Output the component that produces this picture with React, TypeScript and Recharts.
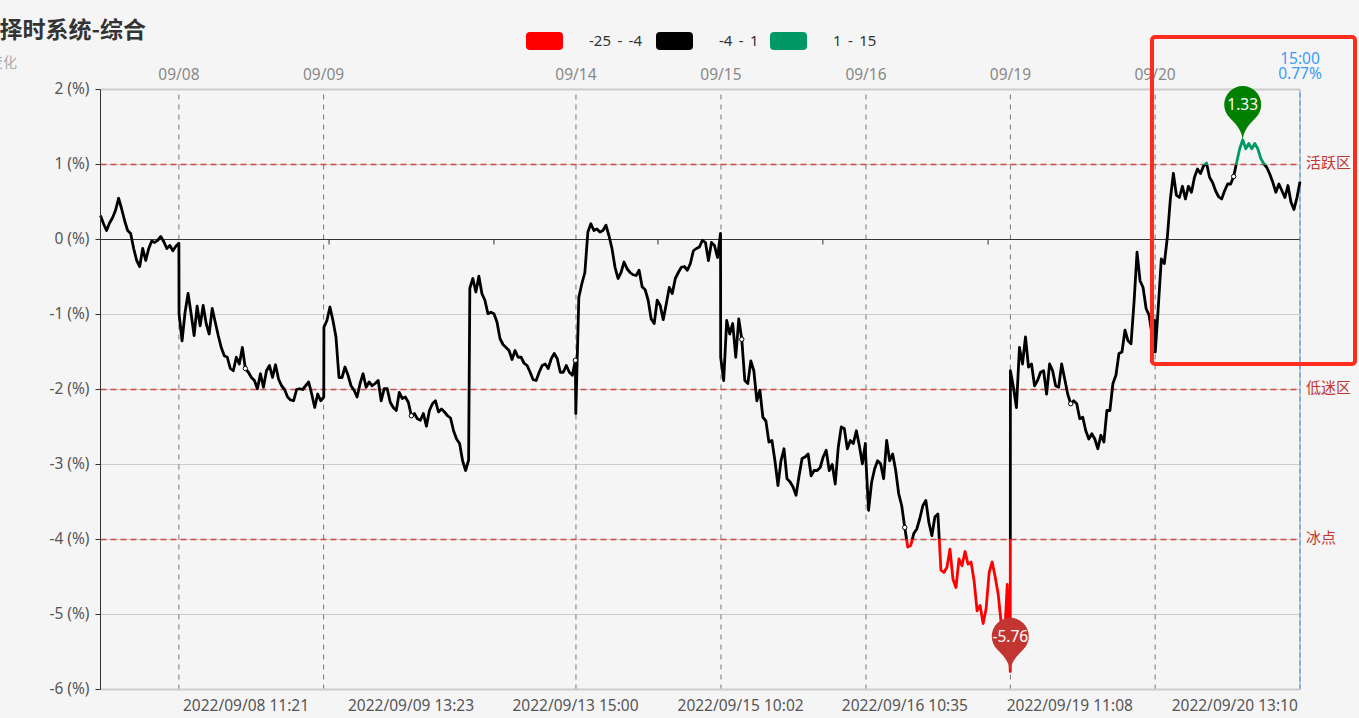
import { CartesianGrid, ComposedChart, Line, ReferenceDot, ReferenceLine, XAxis, YAxis } from "recharts";

// one reading every 5 trading minutes, grouped per session
const sep07 = [0.32, 0.21, 0.12, 0.22, 0.29, 0.39, 0.55, 0.41, 0.25, 0.12, 0.08, -0.12, -0.28, -0.36, -0.12, -0.28, -0.12, -0.02, -0.04, -0.01, 0.04, -0.03, -0.12, -0.08, -0.15, -0.09, -0.05];
const sep08 = [-0.99, -1.35, -0.97, -0.72, -0.99, -1.28, -0.89, -1.15, -0.88, -1.12, -1.26, -0.92, -1.1, -1.28, -1.44, -1.55, -1.57, -1.72, -1.75, -1.57, -1.66, -1.44, -1.72, -1.77, -1.84, -1.88, -1.99, -1.79, -1.97, -1.75, -1.68, -1.84, -1.67, -1.86, -1.95, -2.0, -2.1, -2.14, -2.15, -2.0, -1.99, -2.0, -1.95, -1.9, -2.06, -2.24, -2.06, -2.15, -2.1];
const sep09 = [-1.17, -1.08, -0.9, -1.08, -1.3, -1.84, -1.84, -1.7, -1.81, -1.95, -2.01, -2.1, -1.92, -1.79, -1.97, -1.9, -1.95, -1.92, -1.88, -2.15, -1.99, -1.99, -2.17, -2.24, -2.28, -2.04, -2.12, -2.1, -2.17, -2.35, -2.32, -2.39, -2.41, -2.32, -2.49, -2.28, -2.19, -2.15, -2.3, -2.26, -2.3, -2.35, -2.38, -2.55, -2.66, -2.72, -2.95, -3.08, -2.94];
const sep13 = [-0.65, -0.52, -0.7, -0.49, -0.72, -0.81, -0.99, -0.97, -0.99, -1.1, -1.32, -1.4, -1.44, -1.48, -1.6, -1.48, -1.57, -1.57, -1.65, -1.68, -1.77, -1.87, -1.88, -1.77, -1.68, -1.66, -1.72, -1.59, -1.52, -1.59, -1.77, -1.77, -1.68, -1.77, -1.81, -1.61];
const sep14 = [-2.32, -0.77, -0.59, -0.44, 0.1, 0.21, 0.12, 0.14, 0.1, 0.12, 0.19, 0.05, -0.12, -0.37, -0.52, -0.44, -0.3, -0.39, -0.44, -0.47, -0.48, -0.41, -0.63, -0.67, -0.81, -1.06, -1.12, -0.81, -0.88, -1.07, -0.86, -0.64, -0.72, -0.52, -0.44, -0.37, -0.36, -0.41, -0.32, -0.15, -0.12, -0.1, -0.01, -0.04, -0.28, -0.04, -0.08, -0.24, 0.08];
const sep15 = [-1.57, -1.88, -1.08, -1.26, -1.12, -1.57, -1.06, -1.33, -1.88, -1.92, -1.62, -1.75, -2.15, -2.01, -2.37, -2.42, -2.7, -2.68, -2.95, -3.28, -2.95, -2.79, -3.19, -3.23, -3.3, -3.41, -3.15, -2.92, -2.9, -2.86, -3.15, -3.08, -3.08, -3.04, -2.9, -2.81, -3.08, -3.0, -3.26, -2.77, -2.5, -2.52, -2.79, -2.68, -2.72, -2.55, -2.75, -2.99, -2.72];
const sep16 = [-2.85, -3.61, -3.24, -3.06, -2.95, -2.99, -3.19, -2.68, -2.95, -2.86, -3.08, -3.39, -3.55, -3.84, -4.1, -4.08, -3.92, -3.86, -3.72, -3.55, -3.48, -3.77, -3.95, -3.7, -3.66, -4.41, -4.44, -4.37, -4.13, -4.53, -4.64, -4.26, -4.35, -4.16, -4.33, -4.3, -4.55, -4.95, -4.88, -5.12, -4.92, -4.44, -4.3, -4.5, -4.73, -5.12, -5.4, -4.6, -5.76];
const sep19 = [-1.75, -1.97, -2.24, -1.44, -1.66, -1.3, -1.7, -1.66, -1.95, -1.88, -1.77, -1.75, -2.06, -1.66, -1.75, -1.95, -1.97, -1.66, -1.86, -2.06, -2.19, -2.15, -2.19, -2.39, -2.37, -2.55, -2.66, -2.59, -2.66, -2.79, -2.61, -2.7, -2.28, -2.28, -1.92, -1.81, -1.52, -1.5, -1.21, -1.35, -1.39, -0.84, -0.17, -0.55, -0.64, -0.92, -1.01, -1.28, -1.08];
const sep20 = [-1.5, -0.9, -0.26, -0.32, 0.03, 0.54, 0.88, 0.59, 0.56, 0.71, 0.54, 0.71, 0.63, 0.83, 0.94, 0.88, 0.98, 1.02, 0.83, 0.76, 0.65, 0.57, 0.54, 0.65, 0.74, 0.74, 0.84, 1.03, 1.21, 1.33, 1.21, 1.28, 1.21, 1.28, 1.21, 1.08, 1.01, 0.96, 0.87, 0.76, 0.63, 0.74, 0.65, 0.56, 0.72, 0.5, 0.4, 0.56, 0.77];

const sessions = [sep07, sep08, sep09, sep13, sep14, sep15, sep16, sep19, sep20];
const sessionStarts = [0, 26.05, 74.1, 122.5, 157.65, 205.7, 253.75, 301.8, 349.85];
const lastIndex = 397.85;

const dayTicks = [26, 74, 157.7, 205.8, 253.9, 301.8, 349.8];
const dayLabels = ["09/08", "09/09", "09/14", "09/15", "09/16", "09/19", "09/20"];
const timeTicks = [48.26, 103, 157.55, 212.3, 266.8, 321.5, 376.2];
const timeLabels = ["2022/09/08 11:21", "2022/09/09 13:23", "2022/09/13 15:00", "2022/09/15 10:02", "2022/09/16 10:35", "2022/09/19 11:08", "2022/09/20 13:10"];
const zeroTicks = [21.2, 75.8, 130.5, 184.9, 239.6, 294.4, 348.7];
const yTicks = [-6, -5, -4, -3, -2, -1, 0, 1, 2];
const zones = [
  { y: 1, name: "活跃区" },
  { y: -2, name: "低迷区" },
  { y: -4, name: "冰点" },
];
const legendLabels = ["-25 - -4", "-4 - 1", "1 - 15"];
const legendColors = ["#ff0000", "#000000", "#009966"];

const rows = sessions.flatMap((s, n) => s.map((v, k) => ({ i: sessionStarts[n] + k, v })));
const values = rows.map((r) => r.v);
const maxV = Math.max(...values);
const minV = Math.min(...values);
const maxRow = rows.find((r) => r.v === maxV)!;
const minRow = rows.find((r) => r.v === minV)!;
const lastRow = rows[rows.length - 1];
const offsetOf = (y: number) => (maxV - y) / (maxV - minV);

// the little open circles sit on the sample nearest each time tick
const tickRows = timeTicks.map((t) => rows.reduce((a, b) => (Math.abs(b.i - t) < Math.abs(a.i - t) ? b : a)));

const FONT = '"Noto Sans", "Noto Sans CJK SC", sans-serif';
const CJK = '"Noto Sans CJK SC", sans-serif';

function Pin({ cx, cy, color, text }: any) {
  return (
    <g transform={`translate(${cx},${cy})`}>
      <path d="M0,0 C-1,-8 -4,-13 -13,-22 A18.5,18.5 0 1 1 13,-22 C4,-13 1,-8 0,0 Z" fill={color} />
      <text x={0} y={-35} dy="0.36em" textAnchor="middle" fill="#fff" fontSize={15.5} fontFamily={FONT}>
        {text}
      </text>
    </g>
  );
}

function LastLabel({ viewBox }: any) {
  return (
    <text textAnchor="middle" fill="#3a9bf4" fontSize={15.5} fontFamily={FONT}>
      <tspan x={viewBox.x} y={64}>15:00</tspan>
      <tspan x={viewBox.x} y={79}>{lastRow.v.toFixed(2)}%</tspan>
    </text>
  );
}

export default function App() {
  return (
    <div style={{ position: "absolute", left: 0, top: 0, width: 1359, height: 718, background: "#f5f5f5", overflow: "hidden", fontFamily: FONT }}>
      <div style={{ position: "absolute", right: 1213, top: 11, fontSize: 23, lineHeight: "34px", fontWeight: 700, color: "#333", whiteSpace: "nowrap", fontFamily: CJK }}>
        择时系统-综合
      </div>
      <div style={{ position: "absolute", right: 1342, top: 51, fontSize: 14, lineHeight: "20px", color: "#aaa", whiteSpace: "nowrap", fontFamily: CJK }}>
        变化
      </div>

      {legendLabels.map((label, n) => (
        <div key={label}>
          <div style={{ position: "absolute", left: [526, 656, 770][n], top: 32, width: 37, height: 18, borderRadius: 4, background: legendColors[n] }} />
          <div style={{ position: "absolute", left: [589, 719, 833][n], top: 30, fontSize: 15, lineHeight: "20px", wordSpacing: 2.5, color: "#333", whiteSpace: "nowrap" }}>
            {label}
          </div>
        </div>
      ))}

      <ComposedChart width={1359} height={718} data={rows} margin={{ top: 59.5, right: 59, bottom: 0, left: 0 }}>
        <defs>
          <linearGradient id="tone" x1="0" y1="0" x2="0" y2="1">
            <stop offset={offsetOf(1)} stopColor="#009966" />
            <stop offset={offsetOf(1)} stopColor="#000000" />
            <stop offset={offsetOf(-4)} stopColor="#000000" />
            <stop offset={offsetOf(-4)} stopColor="#ff0000" />
          </linearGradient>
        </defs>
        <CartesianGrid vertical={false} stroke="#ccc" />
        <XAxis
          dataKey="i"
          type="number"
          domain={[0, lastIndex]}
          ticks={timeTicks}
          interval={0}
          height={28.5}
          tickFormatter={(t: number) => timeLabels[timeTicks.indexOf(t)]}
          tick={{ fill: "#555", fontSize: 15.5, fontFamily: FONT }}
          tickLine={false}
          tickMargin={4}
          axisLine={{ stroke: "#ccc", strokeWidth: 2 }}
        />
        <XAxis
          xAxisId="top"
          orientation="top"
          dataKey="i"
          type="number"
          domain={[0, lastIndex]}
          ticks={dayTicks}
          interval={0}
          height={30}
          tickFormatter={(t: number) => dayLabels[dayTicks.indexOf(t)]}
          tick={{ fill: "#888", fontSize: 15.5, fontFamily: FONT }}
          tickLine={false}
          tickMargin={4}
          axisLine={{ stroke: "#ccc", strokeWidth: 2 }}
        />
        <YAxis
          width={100.5}
          domain={[-6, 2]}
          ticks={yTicks}
          interval={0}
          tickFormatter={(v: number) => `${v} (%)`}
          tick={{ fill: "#555", fontSize: 15.5, fontFamily: FONT, dy: -1 }}
          tickSize={5}
          tickMargin={6}
          stroke="#333"
        />
        <ReferenceLine x={lastIndex} stroke="#ccc" strokeWidth={2} />
        {dayTicks.map((t) => (
          <ReferenceLine key={t} x={t} stroke="#777" strokeDasharray="5 5" />
        ))}
        <ReferenceLine y={0} stroke="#333" />
        {zeroTicks.map((t) => (
          <ReferenceLine key={t} segment={[{ x: t, y: 0 }, { x: t, y: -0.067 }]} stroke="#333" />
        ))}
        {zones.map((z) => (
          <ReferenceLine
            key={z.name}
            y={z.y}
            stroke="#d04a44"
            strokeWidth={1.5}
            strokeDasharray="6 4"
            label={{ value: z.name, position: "right", offset: 6, dy: -1.5, fill: "#c23531", fontSize: 15, fontFamily: CJK }}
          />
        ))}
        <ReferenceLine x={lastIndex} stroke="#2f8fef" strokeDasharray="5 3" label={<LastLabel />} />
        <Line dataKey="v" stroke="url(#tone)" strokeWidth={2.8} dot={false} activeDot={false} isAnimationActive={false} strokeLinejoin="round" />
        {tickRows.map((r) => (
          <ReferenceDot key={r.i} x={r.i} y={r.v} r={2.2} fill="#fff" stroke="#000" strokeWidth={1} />
        ))}
        <ReferenceDot x={maxRow.i} y={maxRow.v} shape={(p: any) => <Pin {...p} color="#008000" text={maxRow.v.toFixed(2)} />} />
        <ReferenceDot x={minRow.i} y={minRow.v} shape={(p: any) => <Pin {...p} color="#c23531" text={minRow.v.toFixed(2)} />} />
      </ComposedChart>

      <div style={{ position: "absolute", left: 1150, top: 35, width: 207, height: 331, boxSizing: "border-box", border: "4px solid #fe2c1e", borderRadius: 5, pointerEvents: "none" }} />
    </div>
  );
}
